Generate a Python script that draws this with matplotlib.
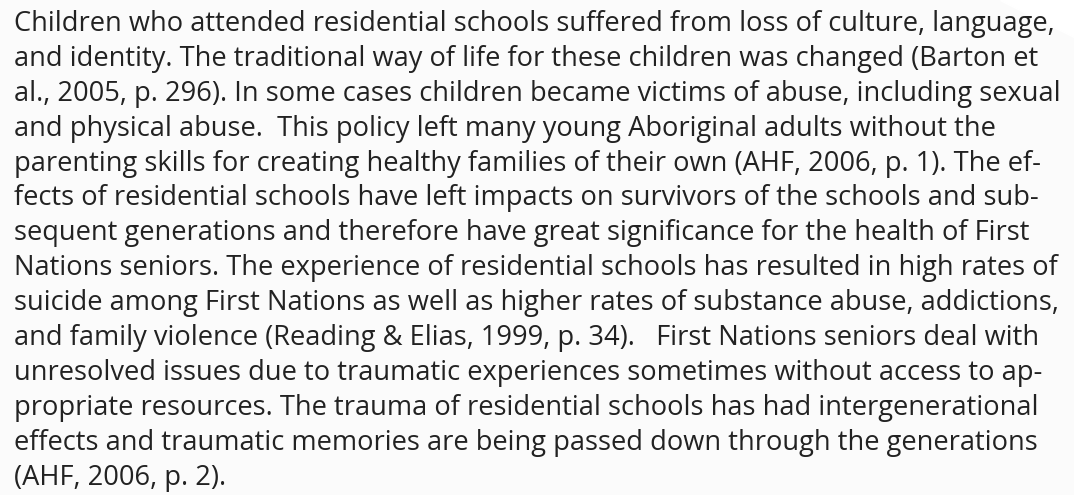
import matplotlib
matplotlib.use("Agg")
import matplotlib.pyplot as plt

# text lines, as they break in the original
lines = [
    "Children who attended residential schools suffered from loss of culture, language,",
    "and identity. The traditional way of life for these children was changed (Barton et",
    "al., 2005, p. 296). In some cases children became victims of abuse, including sexual",
    "and physical abuse.  This policy left many young Aboriginal adults without the",
    "parenting skills for creating healthy families of their own (AHF, 2006, p. 1). The ef-",
    "fects of residential schools have left impacts on survivors of the schools and sub-",
    "sequent generations and therefore have great significance for the health of First",
    "Nations seniors. The experience of residential schools has resulted in high rates of",
    "suicide among First Nations as well as higher rates of substance abuse, addictions,",
    "and family violence (Reading & Elias, 1999, p. 34).   First Nations seniors deal with",
    "unresolved issues due to traumatic experiences sometimes without access to ap-",
    "propriate resources. The trauma of residential schools has had intergenerational",
    "effects and traumatic memories are being passed down through the generations",
    "(AHF, 2006, p. 2).",
]

W, H = 1074, 495
fig = plt.figure(figsize=(W / 100, H / 100), dpi=100)
fig.patch.set_facecolor("#fbfbfb")
ax = fig.add_axes([0, 0, 1, 1])
ax.set_xlim(0, W)
ax.set_ylim(H, 0)
ax.axis("off")

# faint white wedge in the top right corner
ax.fill([1000, W, W], [0, 0, 37], color="white", zorder=0)

x0 = 14
y0 = 31
step = 34.9
fs = 17.0
target_w = 1039

# fit the font size to the width of the first line
t = ax.text(x0, y0, lines[0], fontsize=fs, family="Open Sans", color="#222222")
fig.canvas.draw()
w = t.get_window_extent().width
fs = fs * target_w / w
t.remove()

for i, s in enumerate(lines):
    ax.text(x0, y0 + i * step, s, fontsize=fs, family="Open Sans",
            color="#222222", va="baseline", ha="left")

fig.savefig("out.png", dpi=100, facecolor=fig.get_facecolor())
